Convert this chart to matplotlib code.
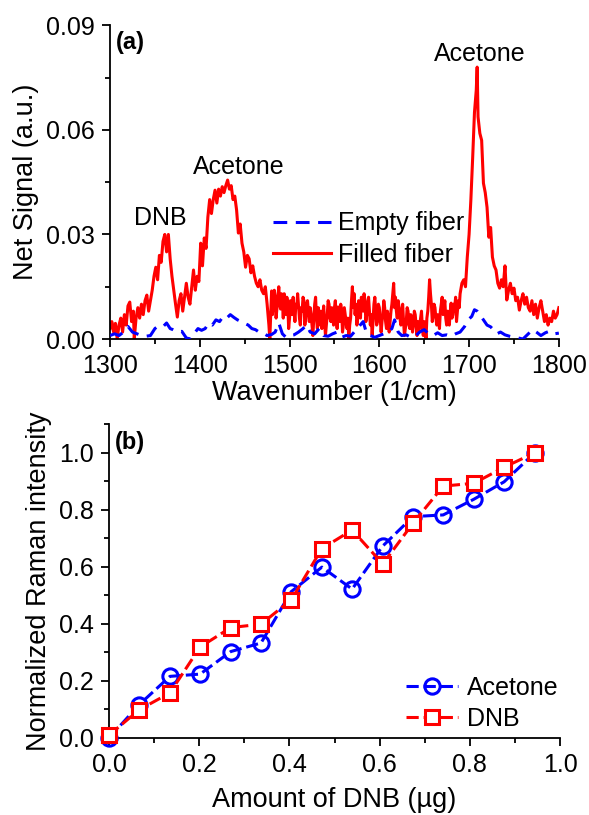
import matplotlib
matplotlib.use("Agg")
import matplotlib.pyplot as plt
from matplotlib.ticker import MultipleLocator, FormatStrFormatter

plt.rcParams['font.family'] = ['Liberation Sans', 'DejaVu Sans']

# ---------------- Panel (a) data ----------------
# Filled fiber, 1300-1478 cm-1
filled_wn_low = [1300, 1302, 1304, 1306, 1308, 1310, 1312, 1314, 1316, 1318, 1320, 1322, 1324, 1326, 1327,
                 1329, 1331, 1333, 1335, 1337, 1339, 1341, 1343, 1345, 1347, 1349, 1351, 1353, 1355, 1357,
                 1359, 1361, 1363, 1365, 1367, 1369, 1371, 1373, 1375, 1377, 1379, 1381, 1383, 1385, 1387,
                 1389, 1391, 1393, 1395, 1397, 1399, 1401, 1403, 1405, 1407, 1409, 1411, 1413, 1415, 1417,
                 1419, 1421, 1423, 1425, 1427, 1429, 1431, 1433, 1435, 1437, 1439, 1441, 1443, 1445, 1447,
                 1449, 1451, 1453, 1455, 1457, 1459, 1461, 1463, 1465, 1467, 1469, 1471, 1473, 1475, 1477, 1478]
filled_sig_low = [0.003, 0.005, 0.002, 0.0045, 0.000, 0.004, 0.006, 0.002, 0.007, 0.004, 0.0095, 0.0106, 0.005, 0.008, 0.000,
                  0.006, 0.009, 0.006, 0.010, 0.007, 0.011, 0.0126, 0.008, 0.011, 0.014, 0.018, 0.0206, 0.017, 0.024, 0.022,
                  0.028, 0.030, 0.025, 0.030, 0.023, 0.018, 0.014, 0.010, 0.0063, 0.011, 0.013, 0.008, 0.012, 0.016, 0.012,
                  0.010, 0.015, 0.0198, 0.014, 0.018, 0.0165, 0.0275, 0.021, 0.029, 0.026, 0.035, 0.040, 0.036, 0.040, 0.0427,
                  0.039, 0.043, 0.041, 0.0437, 0.042, 0.044, 0.0456, 0.043, 0.044, 0.040, 0.041, 0.037, 0.0304, 0.033, 0.0275,
                  0.025, 0.0206, 0.024, 0.023, 0.019, 0.021, 0.018, 0.016, 0.015, 0.017, 0.014, 0.013, 0.015, 0.010, 0.004, 0.000]

# Filled fiber, 1480-1690 cm-1 (1 cm-1 sampling)
filled_wn_mid = list(range(1480, 1691))
filled_sig_mid = [0.0138, 0.007, 0.010, 0.014, 0.012, 0.006, 0.009, 0.012, 0.015, 0.010,
                  0.0086, 0.013, 0.011, 0.006, 0.013, 0.009, 0.007, 0.012, 0.010, 0.003,
                  0.006, 0.011, 0.010, 0.007, 0.012, 0.008, 0.005, 0.010, 0.009, 0.013,
                  0.0095, 0.006, 0.004, 0.009, 0.008, 0.012, 0.011, 0.004, 0.006, 0.010,
                  0.011, 0.008, 0.005, 0.009, 0.007, 0.004, 0.001, 0.006, 0.010, 0.012,
                  0.006, 0.003, 0.009, 0.007, 0.004, 0.008, 0.003, 0.006, 0.0095, 0.005,
                  0.001, 0.004, 0.007, 0.011, 0.010, 0.006, 0.005, 0.009, 0.008, 0.004,
                  0.009, 0.011, 0.006, 0.003, 0.0092, 0.007, 0.005, 0.010, 0.008, 0.002,
                  0.004, 0.009, 0.007, 0.005, 0.003, 0.006, 0.000, 0.004, 0.006, 0.011,
                  0.015, 0.009, 0.013, 0.007, 0.010, 0.004, 0.0063, 0.011, 0.009, 0.006,
                  0.012, 0.010, 0.008, 0.013, 0.011, 0.005, 0.007, 0.010, 0.012, 0.008,
                  0.004, 0.007, 0.001, 0.005, 0.010, 0.012, 0.008, 0.004, 0.005, 0.010,
                  0.009, 0.006, 0.002, 0.005, 0.007, 0.011, 0.009, 0.005, 0.003, 0.008,
                  0.006, 0.002, 0.005, 0.008, 0.010, 0.013, 0.016, 0.009, 0.012, 0.008,
                  0.006, 0.011, 0.009, 0.006, 0.004, 0.008, 0.010, 0.005, 0.001, 0.003,
                  0.005, 0.009, 0.008, 0.004, 0.003, 0.007, 0.006, 0.002, 0.004, 0.008,
                  0.007, 0.004, 0.001, 0.005, 0.002, 0.004, 0.006, 0.008, 0.003, 0.001,
                  0.005, 0.004, 0.000, 0.006, 0.008, 0.012, 0.017, 0.013, 0.010, 0.005,
                  0.007, 0.010, 0.009, 0.006, 0.004, 0.007, 0.006, 0.003, 0.008, 0.010,
                  0.012, 0.007, 0.009, 0.011, 0.006, 0.004, 0.008, 0.006, 0.004, 0.008,
                  0.0103, 0.006, 0.007, 0.010, 0.009, 0.012, 0.005, 0.008, 0.011, 0.009,
                  0.013]

# Filled fiber, 1692-1800 cm-1
filled_wn_high = [1692, 1694, 1696, 1698, 1700, 1702, 1704, 1706, 1708, 1709, 1710, 1712, 1714,
                  1716, 1718, 1720, 1722, 1724, 1726, 1728, 1730, 1732, 1734, 1736, 1738, 1740, 1742, 1744,
                  1746, 1748, 1750, 1752, 1754, 1756, 1758, 1760, 1762, 1764, 1766, 1768, 1770, 1772, 1774,
                  1776, 1778, 1780, 1782, 1784, 1786, 1788, 1790, 1792, 1794, 1796, 1798, 1800]
filled_sig_high = [0.016, 0.017, 0.015, 0.0235, 0.030, 0.040, 0.052, 0.065, 0.0714, 0.078, 0.0637, 0.059, 0.057,
                   0.0447, 0.042, 0.0378, 0.0292, 0.032, 0.0235, 0.021, 0.0198, 0.016, 0.0146, 0.017, 0.015, 0.021, 0.0112, 0.014,
                   0.016, 0.013, 0.0146, 0.011, 0.012, 0.0083, 0.011, 0.013, 0.010, 0.012, 0.009, 0.008, 0.011, 0.007, 0.010,
                   0.006, 0.009, 0.011, 0.008, 0.005, 0.007, 0.004, 0.006, 0.005, 0.008, 0.006, 0.007, 0.009]

empty_wn = [1300, 1305, 1310, 1315, 1320, 1325, 1330, 1335, 1340, 1345, 1350, 1355, 1360, 1363, 1367,
            1370, 1375, 1380, 1385, 1390, 1395, 1398, 1402, 1406, 1410, 1414, 1418, 1422, 1426, 1430,
            1434, 1438, 1442, 1446, 1450, 1454, 1458, 1462, 1466, 1470, 1475, 1480, 1484, 1488, 1492,
            1496, 1500, 1505, 1510, 1515, 1519, 1523, 1528, 1533, 1538, 1543, 1548, 1553, 1558, 1563,
            1568, 1572, 1577, 1582, 1586, 1590, 1595, 1600, 1605, 1610, 1614, 1617, 1621, 1625, 1630,
            1635, 1640, 1645, 1650, 1655, 1660, 1665, 1670, 1675, 1680, 1685, 1690, 1695, 1699, 1703,
            1706, 1709, 1712, 1716, 1720, 1724, 1727, 1731, 1735, 1740, 1745, 1750, 1755, 1760, 1764,
            1768, 1771, 1775, 1780, 1785, 1790, 1795, 1800]
empty_sig = [0.001, 0.0015, 0.001, 0.002, 0.0036, 0.002, 0.0015, 0.001, 0.0008, 0.001, 0.003, 0.004, 0.0038, 0.0046, 0.003,
             0.0027, 0.002, 0.0022, 0.0003, 0.0, 0.002, 0.003, 0.0025, 0.003, 0.0046, 0.004, 0.0055, 0.005, 0.0065, 0.006,
             0.007, 0.0062, 0.0055, 0.005, 0.0045, 0.004, 0.003, 0.0027, 0.002, 0.0018, 0.001, 0.0013, 0.002, 0.0046, 0.0015,
             0.0005, 0.001, 0.0012, 0.002, 0.003, 0.004, 0.002, 0.0015, 0.003, 0.001, 0.0008, 0.0015, 0.002, 0.0005, 0.001,
             0.0008, 0.002, 0.0035, 0.005, 0.0015, 0.001, 0.0005, 0.001, 0.0015, 0.002, 0.003, 0.0055, 0.002, 0.001, 0.0012,
             0.0005, 0.0008, 0.002, 0.0027, 0.0015, 0.001, 0.0018, 0.001, 0.0012, 0.0008, 0.0015, 0.002, 0.0036, 0.0055, 0.0065,
             0.0084, 0.008, 0.007, 0.0055, 0.004, 0.0035, 0.0027, 0.0015, 0.002, 0.0012, 0.0008, 0.0005, 0.0003, 0.0, 0.001,
             0.002, 0.0027, 0.002, 0.001, 0.0018, 0.0023, 0.0015, 0.0017]

# ---------------- Panel (b) data ----------------
dnb_amount = [0.0, 0.067, 0.135, 0.202, 0.270, 0.337, 0.404, 0.472, 0.539, 0.607, 0.674, 0.741, 0.809, 0.876, 0.944]
acetone_norm = [0.0, 0.117, 0.216, 0.224, 0.303, 0.333, 0.513, 0.599, 0.522, 0.673, 0.776, 0.782, 0.837, 0.898, 1.0]
dnb_norm = [0.01, 0.099, 0.158, 0.319, 0.387, 0.399, 0.484, 0.664, 0.729, 0.610, 0.753, 0.883, 0.893, 0.949, 1.0]

filled_wn = filled_wn_low + filled_wn_mid + filled_wn_high
filled_sig = filled_sig_low + filled_sig_mid + filled_sig_high

FS = 18
LFS = 19.5

fig = plt.figure(figsize=(5.89, 8.15), dpi=100)
ax1 = fig.add_axes([0.1868, 0.584, 0.762, 0.385])
ax2 = fig.add_axes([0.1851, 0.0945, 0.7657, 0.385])

for ax in (ax1, ax2):
    for s in ('top', 'right'):
        ax.spines[s].set_visible(False)
    for s in ('left', 'bottom'):
        ax.spines[s].set_linewidth(1.3)
    ax.tick_params(which='major', direction='out', length=6, width=1.3, labelsize=FS, pad=5)
    ax.tick_params(which='minor', direction='out', length=3.5, width=1.3)

# Panel (a)
ax1.plot(filled_wn, filled_sig, color='#ff0000', lw=2.2, label='Filled fiber', zorder=2)
ax1.plot(empty_wn, empty_sig, color='#0000ff', lw=2.2, ls=(0, (4.5, 2.8)), label='Empty fiber', zorder=3)
ax1.set_xlim(1300, 1800)
ax1.set_ylim(0, 0.09)
ax1.xaxis.set_major_locator(MultipleLocator(100))
ax1.xaxis.set_minor_locator(MultipleLocator(50))
ax1.yaxis.set_major_locator(MultipleLocator(0.03))
ax1.yaxis.set_minor_locator(MultipleLocator(0.015))
ax1.yaxis.set_major_formatter(FormatStrFormatter('%.2f'))
ax1.set_xlabel('Wavenumber (1/cm)', fontsize=LFS, labelpad=1)
ax1.set_ylabel('Net Signal (a.u.)', fontsize=LFS, labelpad=5)
h, l = ax1.get_legend_handles_labels()
ax1.legend(h[::-1], l[::-1], loc='upper left', bbox_to_anchor=(0.33, 0.455), frameon=False,
           fontsize=FS, handlelength=2.3, handletextpad=0.3, labelspacing=0.3, borderpad=0.1)
ax1.text(0.013, 0.946, '(a)', transform=ax1.transAxes, fontsize=17, fontweight='bold', va='center', ha='left')
ax1.text(1356, 0.0347, 'DNB', fontsize=FS, ha='center', va='center')
ax1.text(1443, 0.0493, 'Acetone', fontsize=FS, ha='center', va='center')
ax1.text(1712, 0.0817, 'Acetone', fontsize=FS, ha='center', va='center')

# Panel (b)
ax2.plot(dnb_amount, acetone_norm, color='#0000ff', lw=2.2, ls=(0, (4, 1.6)), marker='o', ms=11,
         mfc='none', mec='#0000ff', mew=2.2, label='Acetone', clip_on=False, zorder=3)
ax2.plot(dnb_amount, dnb_norm, color='#ff0000', lw=2.2, ls=(0, (4, 1.6)), marker='s', ms=10,
         mfc='white', mec='#ff0000', mew=2.2, label='DNB', clip_on=False, zorder=4)
ax2.set_xlim(0, 1.0)
ax2.set_ylim(0, 1.1)
ax2.xaxis.set_major_locator(MultipleLocator(0.2))
ax2.xaxis.set_minor_locator(MultipleLocator(0.1))
ax2.yaxis.set_major_locator(MultipleLocator(0.2))
ax2.yaxis.set_minor_locator(MultipleLocator(0.1))
ax2.xaxis.set_major_formatter(FormatStrFormatter('%.1f'))
ax2.yaxis.set_major_formatter(FormatStrFormatter('%.1f'))
ax2.set_xlabel('Amount of DNB (\u00b5g)', fontsize=LFS, labelpad=7)
ax2.set_ylabel('Normalized Raman intensity', fontsize=LFS, labelpad=5)
ax2.legend(loc='lower right', bbox_to_anchor=(1.03, -0.025), frameon=False, fontsize=FS,
           handlelength=2.1, handletextpad=0.35, labelspacing=0.28, borderpad=0.1)
ax2.text(0.013, 0.943, '(b)', transform=ax2.transAxes, fontsize=17, fontweight='bold', va='center', ha='left')

fig.savefig('out.png', dpi=100)
